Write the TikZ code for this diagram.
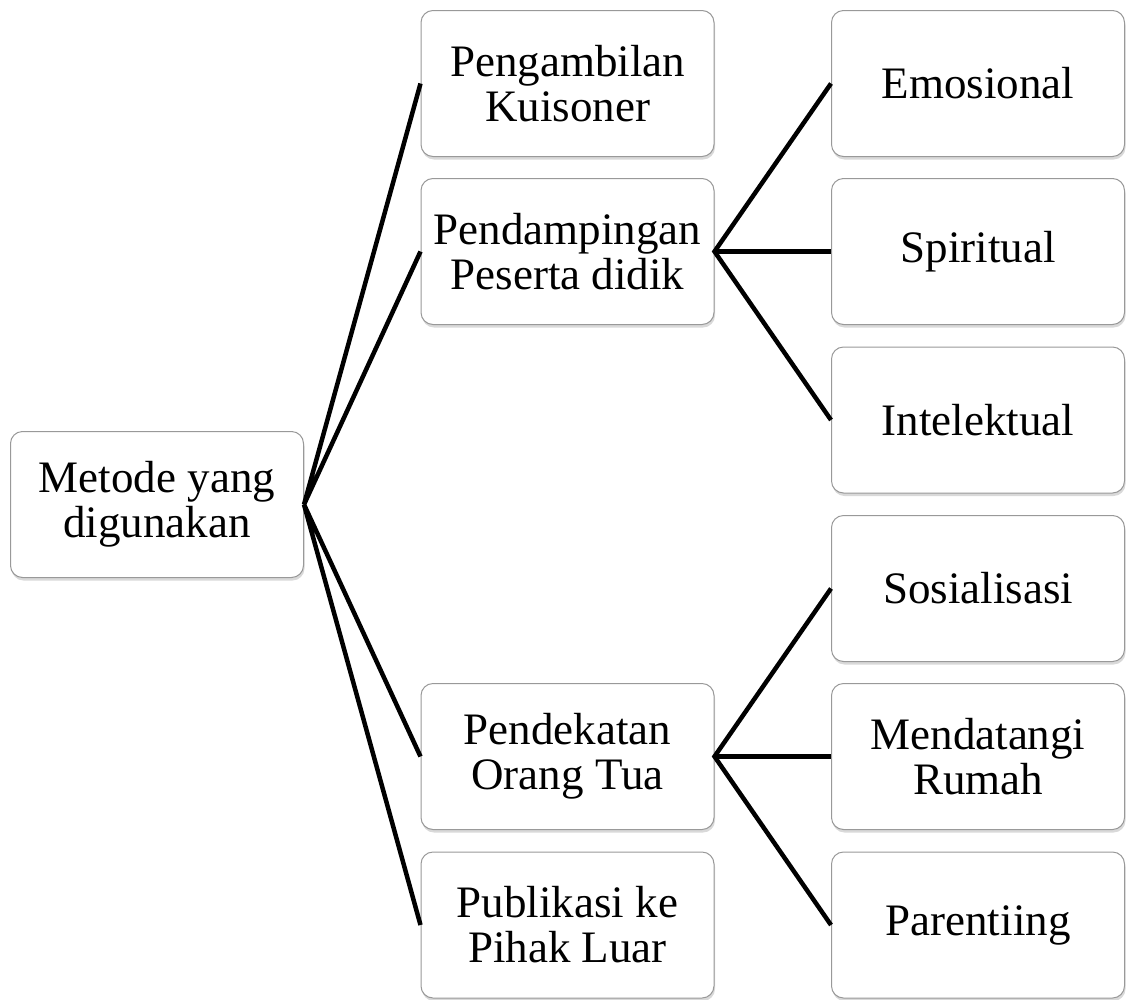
\documentclass[tikz,border=0pt]{standalone}
\usepackage{fontspec}
\setmainfont{Liberation Serif}
\usepackage{tikz}
\usetikzlibrary{positioning}
\usetikzlibrary{shadows}

\tikzset{
  box/.style={draw=gray!80, line width=1pt, fill=white, rounded corners=12pt,
    minimum width=293pt, minimum height=146pt, align=center,
    font=\fontsize{45}{45}\selectfont,
    drop shadow={opacity=0.3, shadow xshift=1pt, shadow yshift=-3pt}},
  link/.style={line width=4.5pt}
}

\begin{document}
\begin{tikzpicture}[x=1pt, y=-1pt]
  \useasboundingbox (0,0) rectangle (1130,999);

  \node[box] at (157,504.5) (root) {Metode yang\\digunakan};

  \node[box] at (567.5,83.5) (kuis) {Pengambilan\\Kuisoner};
  \node[box] at (567.5,251.5) (damping) {Pendampingan\\Peserta didik};
  \node[box] at (567.5,756.5) (dekat) {Pendekatan\\Orang Tua};
  \node[box] at (567.5,925) (publik) {Publikasi ke\\Pihak Luar};

  \node[box] at (978,83.5) (emo) {Emosional};
  \node[box] at (978,251.5) (spirit) {Spiritual};
  \node[box] at (978,420) (intel) {Intelektual};
  \node[box] at (978,588.5) (sosial) {Sosialisasi};
  \node[box] at (978,756.5) (rumah) {Mendatangi\\Rumah};
  \node[box] at (978,925) (parent) {Parentiing};

  \draw[link] (kuis.west) -- (root.east) -- (damping.west);
  \draw[link] (dekat.west) -- (root.east) -- (publik.west);

  \draw[link] (emo.west) -- (damping.east) -- (intel.west);
  \draw[link] (damping.east) -- (spirit.west);

  \draw[link] (sosial.west) -- (dekat.east) -- (parent.west);
  \draw[link] (dekat.east) -- (rumah.west);
\end{tikzpicture}
\end{document}
